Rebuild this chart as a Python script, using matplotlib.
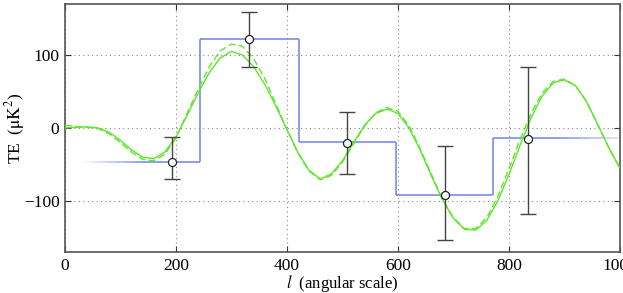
import numpy as np
import matplotlib
matplotlib.use("Agg")
import matplotlib.pyplot as plt
from matplotlib.collections import LineCollection
from matplotlib.colors import to_rgba

# band powers with errors
ell_pts = [192, 332, 508, 684, 834]
te_pts = [-46, 122, -20, -92, -15]
err_lo = [-70, 83, -63, -153, -118]
err_hi = [-12, 159, 22, -24, 83]

# step (bin) model
bin_edges = [30, 244, 421, 596, 772, 1000]
bin_vals = [-46, 122, -19, -92, -14]

# model curves, sampled every 20 in l
ell_curve = list(range(0, 1001, 20))
te_solid = [0, 1, 1.5, 0, -6, -17, -30, -40, -42, -33,
            -12, 17, 48, 76, 96, 105, 100, 84, 60, 30,
            -2, -34, -58, -70, -63, -45, -20, 4, 20, 26,
            20, 0, -30, -65, -98, -124, -139, -140, -127, -100,
            -64, -24, 14, 44, 62, 66, 58, 36, 5, -27, -55]
te_dashed = [4, 2, 1, -1, -8, -20, -33, -43, -45, -36,
             -14, 20, 53, 84, 106, 115, 112, 95, 68, 33,
             -2, -35, -59, -71, -65, -47, -22, 3, 21, 28,
             23, 3, -28, -63, -97, -123, -138, -138, -123, -94,
             -56, -16, 20, 48, 64, 67, 58, 36, 5, -27, -55]

plt.rcParams['font.family'] = ['Liberation Serif', 'DejaVu Serif']
plt.rcParams['mathtext.fontset'] = 'stix'

fig = plt.figure(figsize=(6.23, 2.93), dpi=100)
ax = fig.add_axes([0.1043, 0.140, 0.8907, 0.8463])

# blue step line with faded ends
blue = to_rgba('#6e82f0')
xs, ys = [], []
for i, v in enumerate(bin_vals):
	xs += [bin_edges[i], bin_edges[i+1]]
	ys += [v, v]
xx = []
yy = []
for i in range(len(xs)-1):
	if ys[i] == ys[i+1] and xs[i+1] > xs[i]:
		t = np.linspace(xs[i], xs[i+1], 60)
		xx.append(t); yy.append(np.full_like(t, ys[i], dtype=float))
	else:
		xx.append(np.array([xs[i], xs[i+1]])); yy.append(np.array([ys[i], ys[i+1]], dtype=float))
px = np.concatenate(xx); py = np.concatenate(yy)
segs = [[(px[k], py[k]), (px[k+1], py[k+1])] for k in range(len(px)-1)]
cols = []
for k in range(len(px)-1):
	xm = 0.5*(px[k]+px[k+1])
	a = 1.0
	if xm < 140: a = max(0.0, (xm-30)/110.0)
	if xm > 890: a = max(0.25, 1 - (xm-890)/110.0*0.75)
	cols.append((blue[0], blue[1], blue[2], a))
ax.add_collection(LineCollection(segs, colors=cols, linewidths=1.1, zorder=2))

green = '#5fe62a'
ax.plot(ell_curve, te_solid, color=green, lw=1.0, zorder=3)
ax.plot(ell_curve, te_dashed, color=green, lw=1.0, ls=(0, (5, 2.5)), zorder=3)

yerr = [np.array(te_pts)-np.array(err_lo), np.array(err_hi)-np.array(te_pts)]
ax.errorbar(ell_pts, te_pts, yerr=yerr, fmt='none', ecolor='#444444', elinewidth=1.0,
	capsize=6, capthick=1.0, zorder=4)
ax.plot(ell_pts, te_pts, 'o', ms=5.8, mfc='white', mec='#222222', mew=0.9, zorder=5)

ax.set_xlim(0, 1000)
ax.set_ylim(-170, 170)
ax.set_xticks([0, 200, 400, 600, 800, 1000])
ax.set_yticks([-100, 0, 100])
ax.grid(True, ls=(0, (1, 3)), color='#888888', lw=0.8)
ax.tick_params(direction='in', top=True, right=True, length=4, width=0.8, labelsize=12.5,
	colors='#333333', labelcolor='black', pad=4)
for s in ax.spines.values():
	s.set_color('#555555'); s.set_linewidth(1.2)
ax.set_xlabel(r'$l$  (angular scale)', fontsize=12)
ax.set_ylabel(r'TE  ($\mathrm{\mu K}^2$)', fontsize=12.5)
ax.xaxis.set_label_coords(0.5, -0.084)
ax.yaxis.set_label_coords(-0.068, 0.5)

fig.savefig('out.png', dpi=100)
